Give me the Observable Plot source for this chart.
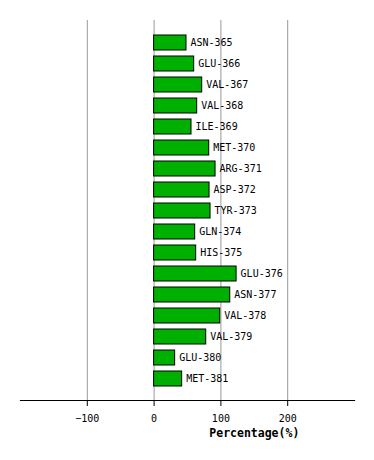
<!DOCTYPE html>
<html>
<head>
<meta charset="utf-8">
<script src="https://cdn.jsdelivr.net/npm/d3@7"></script>
<script src="https://cdn.jsdelivr.net/npm/@observablehq/plot@0.6"></script>
<style>
  html, body { margin: 0; padding: 0; background: #fff; }
</style>
</head>
<body>
<div id="chart"></div>
<script>
const residues = ["ASN-365","GLU-366","VAL-367","VAL-368","ILE-369","MET-370","ARG-371","ASP-372","TYR-373","GLN-374","HIS-375","GLU-376","ASN-377","VAL-378","VAL-379","GLU-380","MET-381"];
const percentages = [48.5, 60, 72, 64.5, 56, 82.5, 92, 83, 84.5, 61.5, 63, 123.5, 114, 99, 78, 31.5, 42];
const xTicks = [-100, 0, 100, 200];
const xLabel = "Percentage(%)";

const data = residues.map((r, i) => ({residue: r, value: percentages[i]}));
const font = "DejaVu Sans Mono, monospace";

const chart = Plot.plot({
  width: 374,
  height: 460,
  marginTop: 20,
  marginBottom: 60,
  marginLeft: 20,
  marginRight: 20,
  style: {fontFamily: font, fontSize: "10px", background: "#fff", color: "#000"},
  x: {domain: [-200, 300], ticks: xTicks, label: null},
  y: {domain: residues, paddingInner: 0.29, paddingOuter: 0.64, axis: null},
  marks: [
    Plot.ruleX(xTicks, {stroke: "#999", strokeWidth: 1}),
    Plot.barX(data, {x1: 0, x2: "value", y: "residue", fill: "#00b000", stroke: "#000", strokeWidth: 1}),
    Plot.text(data, {x: "value", y: "residue", text: "residue", textAnchor: "start", dx: 4, fill: "#000", fontSize: 10}),
    Plot.axisX({ticks: xTicks, tickSize: 6, tickPadding: 8, fontSize: 10, label: null, stroke: "#000", strokeOpacity: 1}),
    Plot.frame({anchor: "bottom", stroke: "#000", strokeWidth: 1.2}),
    Plot.text([xLabel], {x: 150, frameAnchor: "bottom", dy: 36, text: d => d, fontWeight: "bold", fontSize: 11.5, fill: "#000"})
  ]
});
document.getElementById("chart").appendChild(chart);
</script>
</body>
</html>
